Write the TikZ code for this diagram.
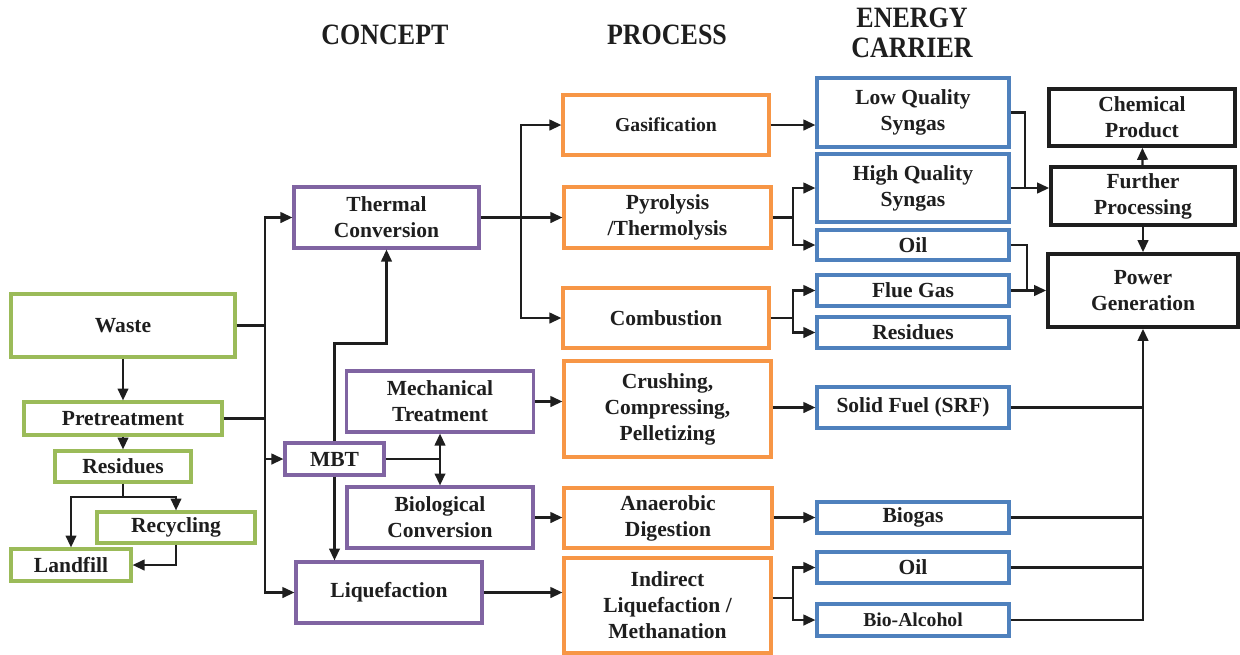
\documentclass[tikz,border=0pt]{standalone}
\usepackage{fontspec}
\setmainfont{Liberation Serif}
\usetikzlibrary{arrows.meta}

\definecolor{wgreen}{HTML}{9BBB59}
\definecolor{cpurple}{HTML}{8064A2}
\definecolor{porange}{HTML}{F79646}
\definecolor{eblue}{HTML}{4F81BD}
\definecolor{ink}{HTML}{1E1E1E}

\tikzset{
  box/.style={draw, rectangle, inner sep=0pt, align=center, fill=white, text=ink,
    font=\fontsize{15.3}{18.5}\selectfont\bfseries},
  gbox/.style={box, draw=wgreen, line width=2.2pt},
  cbox/.style={box, draw=cpurple, line width=2.2pt},
  pbox/.style={box, draw=porange, line width=2.2pt},
  ebox/.style={box, draw=eblue, line width=2.2pt},
  kbox/.style={box, draw=ink, line width=2.6pt},
  small/.style={font=\fontsize{14}{17}\selectfont\bfseries},
  head/.style={align=center, text=ink, font=\fontsize{21}{21.5}\selectfont\bfseries},
  link/.style={draw=ink, line width=1.6pt},
  arr/.style={link, -{Triangle[length=8.5pt,width=7.5pt]}},
  dblarr/.style={link, {Triangle[length=8.5pt,width=7.5pt]}-{Triangle[length=8.5pt,width=7.5pt]}},
}

\begin{document}
\begin{tikzpicture}[x=0.025cm, y=-0.025cm]
    \useasboundingbox (0,0) rectangle (1240,654);

    % column titles
    \node(hconcept) [head] at (385,35) {\scalebox{0.88}[1]{CONCEPT}};
    \node(hprocess) [head] at (667,35) {\scalebox{0.88}[1]{PROCESS}};
    \node(hcarrier) [head] at (912,33) {\scalebox{0.88}[1]{ENERGY}\\\scalebox{0.88}[1]{CARRIER}};

    % waste side
    \node(waste)    [gbox, minimum width=5.6cm,  minimum height=1.575cm] at (123,325.5) {Waste};
    \node(pre)      [gbox, minimum width=4.95cm, minimum height=0.825cm] at (123,418.5) {Pretreatment};
    \node(res)      [gbox, minimum width=3.4cm,  minimum height=0.775cm] at (123,466.5) {Residues};
    \node(recyc)    [gbox, minimum width=3.95cm, minimum height=0.775cm] at (176,527.5) {Recycling};
    \node(landfill) [gbox, minimum width=3.0cm,  minimum height=0.8cm]   at (71,565)    {Landfill};

    % concept
    \node(thermal)  [cbox, minimum width=4.625cm, minimum height=1.525cm] at (386.5,217.5) {Thermal\\Conversion};
    \node(mech)     [cbox, minimum width=4.675cm, minimum height=1.525cm] at (440,401.5)   {Mechanical\\Treatment};
    \node(mbt)      [cbox, minimum width=2.475cm, minimum height=0.8cm]   at (334.5,459)   {MBT};
    \node(bio)      [cbox, minimum width=4.65cm,  minimum height=1.525cm] at (440,517.5)   {Biological\\Conversion};
    \node(liq)      [cbox, minimum width=4.65cm,  minimum height=1.525cm] at (389,592.5)   {Liquefaction};

    % process
    \node(gasif)    [pbox, small, minimum width=5.15cm,  minimum height=1.5cm]   at (666,125)     {Gasification};
    \node(pyro)     [pbox, minimum width=5.175cm, minimum height=1.525cm] at (667.5,217.5) {Pyrolysis\\/Thermolysis};
    \node(comb)     [pbox, minimum width=5.15cm,  minimum height=1.5cm]   at (666,318)     {Combustion};
    \node(crush)    [pbox, minimum width=5.175cm, minimum height=2.4cm]   at (667.5,409)   {Crushing,\\Compressing,\\Pelletizing};
    \node(anaer)    [pbox, minimum width=5.2cm,   minimum height=1.5cm]   at (668,518)     {Anaerobic\\Digestion};
    \node(indir)    [pbox, minimum width=5.175cm, minimum height=2.375cm] at (667.5,605.5) {Indirect\\Liquefaction /\\Methanation};

    % energy carrier
    \node(lq)       [ebox, minimum width=4.8cm, minimum height=1.725cm] at (913,112.5) {Low Quality\\Syngas};
    \node(hq)       [ebox, minimum width=4.8cm, minimum height=1.7cm]   at (913,188)   {High Quality\\Syngas};
    \node(oila)     [ebox, minimum width=4.8cm, minimum height=0.75cm]  at (913,245)   {Oil};
    \node(flue)     [ebox, minimum width=4.8cm, minimum height=0.775cm] at (913,290.5) {Flue Gas};
    \node(resb)     [ebox, minimum width=4.8cm, minimum height=0.775cm] at (913,332.5) {Residues};
    \node(srf)      [ebox, minimum width=4.8cm, minimum height=1.025cm] at (913,407.5) {Solid Fuel (SRF)};
    \node(biogas)   [ebox, minimum width=4.8cm, minimum height=0.775cm] at (913,517.5) {Biogas};
    \node(oilb)     [ebox, minimum width=4.8cm, minimum height=0.775cm] at (913,567.5) {Oil};
    \node(alc)      [ebox, small, minimum width=4.8cm, minimum height=0.8cm] at (913,620) {Bio-Alcohol};

    % products
    \node(chem)     [kbox, minimum width=4.65cm, minimum height=1.425cm] at (1142,117.5) {Chemical\\Product};
    \node(furth)    [kbox, minimum width=4.6cm,  minimum height=1.45cm]  at (1143,196)   {Further\\Processing};
    \node(power)    [kbox, minimum width=4.75cm, minimum height=1.825cm] at (1143,290.5) {Power\\Generation};

    % bus lines
    \coordinate(cbus) at (265,0);
    \coordinate(pbus) at (521,0);
    \coordinate(ebus) at (793,0);
    \coordinate(fbus) at (1025,0);
    \coordinate(gbus) at (1027,0);
    \coordinate(rsplit) at (123,497);
    \coordinate(isplit) at (793,598);

    % waste side
    \draw [arr] (waste) -- (pre);
    \draw [arr] (pre) -- (res);
    \draw [arr] (res.south) -- (rsplit) -| (landfill.north);
    \draw [arr] (rsplit) -| (recyc.north);
    \draw [arr] (recyc.south) |- (landfill.east);

    \draw [arr] (waste.east) -- (waste.east -| cbus) |- (thermal.west);
    \draw [link] (waste.east -| cbus) -- (pre.east -| cbus);
    \draw [arr] (pre.east) -- (pre.east -| cbus) |- (mbt.west);
    \draw [arr] (pre.east -| cbus) |- (liq.west);

    % MBT
    \draw [arr] (mbt.north) -- ++(0,-98) -| (thermal.south);
    \draw [link] (mbt.east) -- (mbt.east -| mech.south);
    \draw [dblarr] (mech.south) -- (bio.north);
    \draw [arr] (mbt.south) -- (mbt.south |- liq.north);

    % concept -> process
    \draw [arr] (thermal.east) -- (pyro.west);
    \draw [arr] (thermal.east -| pbus) |- (gasif.west);
    \draw [arr] (thermal.east -| pbus) |- (comb.west);
    \draw [arr] (mech.east) -- (mech.east -| crush.west);
    \draw [arr] (bio.east) -- (bio.east -| anaer.west);
    \draw [arr] (liq.east) -- (liq.east -| indir.west);

    % process -> energy carrier
    \draw [arr] (gasif.east) -- (gasif.east -| lq.west);
    \draw [arr] (pyro.east) -- (pyro.east -| ebus) |- (hq.west);
    \draw [arr] (pyro.east -| ebus) |- (oila.west);
    \draw [arr] (comb.east) -- (comb.east -| ebus) |- (flue.west);
    \draw [arr] (comb.east -| ebus) |- (resb.west);
    \draw [arr] (crush.east |- srf.west) -- (srf.west);
    \draw [arr] (anaer.east |- biogas.west) -- (biogas.west);
    \draw [arr] (indir.east |- isplit) -- (isplit) |- (oilb.west);
    \draw [arr] (isplit) |- (alc.west);

    % energy carrier -> products
    \draw [link] (lq.east) -| (hq.east -| fbus);
    \draw [arr] (hq.east) -- (hq.east -| furth.west);
    \draw [link] (oila.east) -| (flue.east -| gbus);
    \draw [arr] (flue.east) -- (flue.east -| power.west);
    \draw [arr] (furth) -- (chem);
    \draw [arr] (furth) -- (power);
    \draw [arr] (alc.east) -| (power.south);
    \draw [link] (srf.east) -- (srf.east -| power.south);
    \draw [link] (biogas.east) -- (biogas.east -| power.south);
    \draw [link] (oilb.east) -- (oilb.east -| power.south);

\end{tikzpicture}
\end{document}
